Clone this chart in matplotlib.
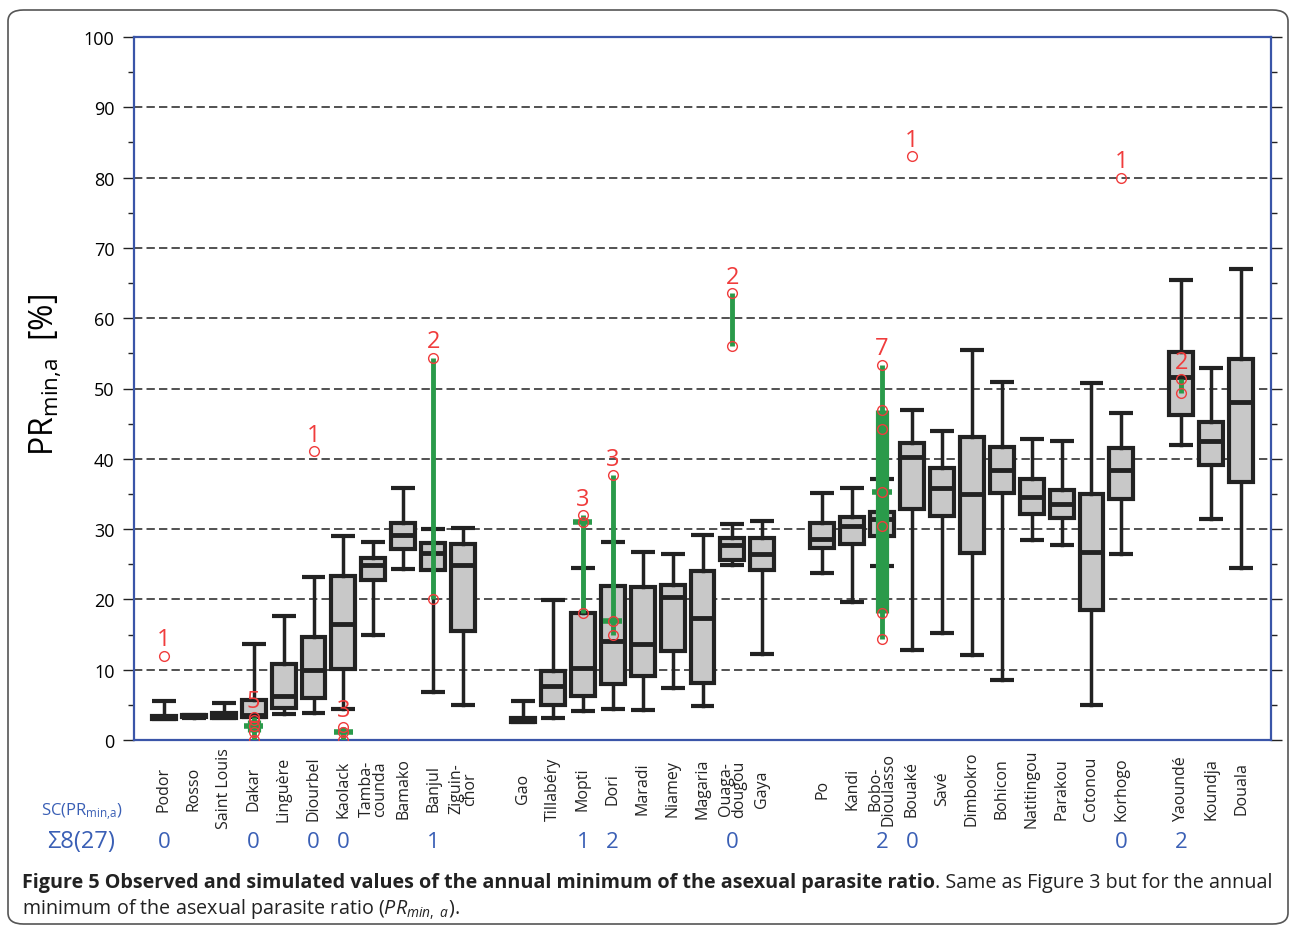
import numpy as np
import matplotlib
matplotlib.use("Agg")
import matplotlib.pyplot as plt
import matplotlib.transforms as mtransforms
from matplotlib.patches import FancyBboxPatch

plt.rcParams['font.family'] = ['Open Sans', 'DejaVu Sans']
plt.rcParams['mathtext.fontset'] = 'custom'
plt.rcParams['mathtext.rm'] = 'Open Sans'
plt.rcParams['mathtext.it'] = 'Open Sans:italic'

# station names and slot positions (gaps between regions)
stations = ["Podor", "Rosso", "Saint Louis", "Dakar", "Linguère", "Diourbel", "Kaolack",
            "Tamba-\ncounda", "Bamako", "Banjul", "Ziguin-\nchor",
            "Gao", "Tillabéry", "Mopti", "Dori", "Maradi", "Niamey", "Magaria",
            "Ouaga-\ndougou", "Gaya",
            "Po", "Kandi", "Bobo-\nDioulasso", "Bouaké", "Savé", "Dimbokro", "Bohicon",
            "Natitingou", "Parakou", "Cotonou", "Korhogo",
            "Yaoundé", "Koundja", "Douala"]
slots = list(range(1, 12)) + list(range(13, 22)) + list(range(23, 34)) + list(range(35, 38))

# observed box statistics (%)
whis_lo = [3.0, 3.2, 3.1, 3.3, 3.7, 3.9, 4.4, 15.0, 24.3, 6.8, 5.0,
           2.6, 3.1, 4.1, 4.4, 4.2, 7.4, 4.8, 24.9, 12.3,
           23.8, 19.6, 24.8, 12.8, 15.2, 12.1, 8.6, 28.4, 27.8, 5.0, 26.4,
           41.9, 31.4, 24.4]
q1 = [3.0, 3.3, 3.2, 3.3, 4.6, 6.0, 10.1, 22.7, 27.1, 24.2, 15.5,
      2.6, 5.0, 6.2, 7.9, 9.1, 12.7, 8.1, 25.6, 24.2,
      27.3, 27.9, 29.0, 32.8, 31.9, 26.6, 35.1, 32.2, 31.6, 18.5, 34.3,
      46.2, 39.1, 36.7]
med = [3.2, 3.4, 3.5, 3.6, 6.3, 10.0, 16.5, 24.9, 29.1, 26.6, 24.9,
       2.85, 7.7, 10.3, 14.1, 13.7, 20.4, 17.4, 27.8, 26.5,
       28.6, 30.5, 31.4, 40.2, 35.9, 35.0, 38.4, 34.6, 33.6, 26.8, 38.4,
       51.7, 42.5, 48.1]
q3 = [3.4, 3.5, 3.8, 5.7, 10.8, 14.6, 23.3, 25.9, 30.8, 28.0, 27.9,
      3.1, 9.8, 18.0, 21.9, 21.7, 22.1, 24.0, 28.8, 28.8,
      30.9, 31.7, 32.4, 42.3, 38.7, 43.1, 41.7, 37.1, 35.6, 35.0, 41.5,
      55.2, 45.2, 54.2]
whis_hi = [5.6, 3.6, 5.3, 13.7, 17.6, 23.2, 29.0, 28.1, 35.8, 30.0, 30.1,
           5.5, 19.9, 24.5, 28.1, 26.8, 26.4, 29.2, 30.7, 31.1,
           35.1, 35.9, 37.1, 47.0, 44.0, 55.5, 50.9, 42.8, 42.5, 50.8, 46.5,
           65.5, 52.9, 67.0]

# simulated values (red circles) and scores per station
sim_names = ["Podor", "Dakar", "Diourbel", "Kaolack", "Banjul", "Mopti", "Dori",
             "Ouaga-\ndougou", "Bobo-\nDioulasso", "Bouaké", "Korhogo", "Yaoundé"]
sim_values = [[12.0],
              [3.3, 2.8, 2.0, 1.2, 0.0],
              [41.1],
              [1.9, 1.1, 0.0],
              [54.4, 20.0],
              [32.0, 31.0, 18.0],
              [37.7, 16.9, 15.0],
              [63.6, 56.0],
              [53.4, 47.0, 44.3, 35.3, 30.5, 18.0, 14.3],
              [83.1],
              [80.0],
              [51.4, 49.3]]
sc_scores = [0, 0, 0, 0, 1, 1, 2, 0, 2, 0, 0, 2]

GREEN = "#2a9a4a"
RED = "#f03c3c"
BLUE = "#3a5fb5"
DARK = "#222222"

fig = plt.figure(figsize=(12.93, 9.29), dpi=100)
ax = fig.add_axes([134 / 1293, 188 / 929, 1137 / 1293, 703 / 929])

stats = []
for i in range(len(stations)):
    stats.append(dict(whislo=whis_lo[i], q1=q1[i], med=med[i], q3=q3[i],
                      whishi=whis_hi[i], fliers=[]))
ax.bxp(stats, positions=slots, widths=0.8, capwidths=0.8, patch_artist=True,
       showfliers=False,
       boxprops=dict(facecolor="#c8c8c8", edgecolor=DARK, linewidth=3),
       medianprops=dict(color=DARK, linewidth=3.5, solid_capstyle="butt"),
       whiskerprops=dict(color=DARK, linewidth=2.5),
       capprops=dict(color=DARK, linewidth=3, solid_capstyle="butt"),
       zorder=3)

# simulations
for name, vals in zip(sim_names, sim_values):
    x = slots[stations.index(name)]
    s = np.sort(vals)
    n = len(s)
    if n > 1:
        ax.plot([x, x], [s[0], s[-1]], color=GREEN, lw=3.5, zorder=4,
                solid_capstyle="butt")
    if n >= 5:
        ax.plot([x, x], [s[1], s[-2]], color=GREEN, lw=9.5, zorder=4,
                solid_capstyle="butt")
    if n >= 3 and n % 2 == 1:
        m = np.median(s)
        ax.plot([x - 0.32, x + 0.32], [m, m], color=GREEN, lw=4, zorder=4,
                solid_capstyle="butt")
    ax.plot([x] * n, s, "o", mfc="none", mec=RED, ms=7, mew=1, zorder=5)
    ax.annotate(str(n), (x, s[-1]), xytext=(0, 3), textcoords="offset points",
                ha="center", va="bottom", color=RED, fontsize=17, zorder=6)

ax.set_xlim(0, 38)
ax.set_ylim(0, 100)
ax.set_yticks(np.arange(0, 101, 10))
ax.set_yticks(np.arange(5, 100, 10), minor=True)
ax.set_xticks([])
ax.tick_params(axis="y", which="both", direction="out", left=True, right=True,
               labelsize=13, pad=6, color=DARK)
ax.tick_params(axis="y", which="major", length=8, width=1)
ax.tick_params(axis="y", which="minor", length=4, width=1)
for y in range(10, 100, 10):
    ax.axhline(y, color="#333333", lw=1.2, ls=(0, (5, 2.5)), zorder=1)
for sp in ax.spines.values():
    sp.set_color("#3a55a8")
    sp.set_linewidth(1.6)

ax.set_ylabel(r"PR$_{\mathrm{min{,}a}}$  [%]", fontsize=23)
ax.yaxis.set_label_coords(-0.062, 0.52)

# station labels below the axis
trans = mtransforms.blended_transform_factory(ax.transData, fig.transFigure)
for name, x in zip(stations, slots):
    ax.text(x, 1 - 789 / 929, name, rotation=90, ha="center", va="center",
            fontsize=11.5, linespacing=0.8, transform=trans, color=DARK)
for name, sc in zip(sim_names, sc_scores):
    x = slots[stations.index(name)]
    ax.text(x, 1 - 843 / 929, str(sc), ha="center", va="center", fontsize=16,
            color=BLUE, transform=trans)
fig.text(82 / 1293, 1 - 812 / 929, r"SC(PR$_{\mathrm{min{,}a}}$)", ha="center",
         va="center", fontsize=12, color=BLUE)
fig.text(81 / 1293, 1 - 842 / 929, "\u03a38(27)", ha="center", va="center",
         fontsize=17, color=BLUE)

# caption
renderer = fig.canvas.get_renderer()
t1 = fig.text(22 / 1293, 1 - 883 / 929,
              "Figure 5 Observed and simulated values of the annual minimum of the asexual parasite ratio",
              fontsize=14.2, fontweight="bold", va="center", ha="left", color=DARK)
bb = t1.get_window_extent(renderer)
fig.text(bb.x1 / 1293, 1 - 883 / 929, ". Same as Figure 3 but for the annual",
         fontsize=14.2, va="center", ha="left", color=DARK)
fig.text(22 / 1293, 1 - 910 / 929,
         r"minimum of the asexual parasite ratio ($\mathit{PR}_{\mathit{min,\ a}}$).",
         fontsize=14.2, va="center", ha="left", color=DARK)

frame = FancyBboxPatch((8 / 1293, 4 / 929), 1280 / 1293, 914 / 929,
                       boxstyle="round,pad=0,rounding_size=0.012",
                       transform=fig.transFigure, fill=False, ec="#555555", lw=1.2)
fig.patches.append(frame)

fig.savefig("out.png", dpi=100)
